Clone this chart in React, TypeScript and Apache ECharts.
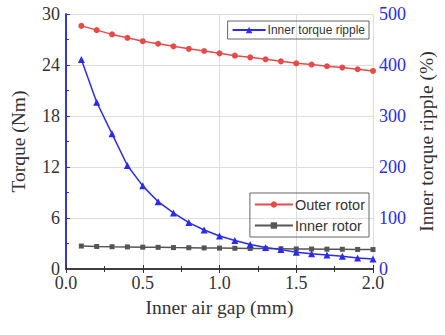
import React, { useEffect, useRef } from "react";
import * as echarts from "echarts";

// Inner air gap (mm)
const gap = [0.1, 0.2, 0.3, 0.4, 0.5, 0.6, 0.7, 0.8, 0.9, 1.0, 1.1, 1.2, 1.3, 1.4, 1.5, 1.6, 1.7, 1.8, 1.9, 2.0];
// Torque (Nm)
const outerRotor = [28.6, 28.1, 27.6, 27.2, 26.8, 26.5, 26.2, 25.9, 25.65, 25.37, 25.1, 24.9, 24.67, 24.43, 24.2, 24.05, 23.85, 23.7, 23.5, 23.3];
const innerRotor = [2.7, 2.65, 2.62, 2.6, 2.57, 2.55, 2.52, 2.5, 2.48, 2.46, 2.44, 2.42, 2.4, 2.38, 2.36, 2.35, 2.33, 2.32, 2.3, 2.29];
// Inner torque ripple (%)
const innerRipple = [411, 327, 265, 203, 163, 132, 110, 91, 76.5, 64.7, 56, 48, 42, 38, 33, 30, 27.5, 25, 21.6, 19.6];

const serif = "'Liberation Serif', 'DejaVu Serif', serif";
const sans = "'Liberation Sans', Arial, sans-serif";
const blue = "#2a2af0";
const red = "#e84a4a";
const gray = "#555555";
const axisColor = "#333333";

const pairs = (ys: number[]) => gap.map((x, i) => [x, ys[i]]);

export default function App() {
  const ref = useRef<HTMLDivElement>(null);

  useEffect(() => {
    if (!ref.current) return;
    const chart = echarts.init(ref.current, undefined, { renderer: "svg" });
    chart.setOption({
      animation: false,
      backgroundColor: "#ffffff",
      grid: { left: 60, right: 72, top: 14, bottom: 66, containLabel: false },
      legend: [
        {
          data: ["Inner torque ripple"],
          right: 76,
          top: 21,
          padding: [3, 4],
          itemWidth: 33,
          itemHeight: 8,
          borderColor: "#666",
          borderWidth: 1,
          borderRadius: 0,
          textStyle: { fontFamily: sans, fontSize: 12, color: "#333", padding: [0, 0, 0, -3] },
        },
        {
          data: ["Outer rotor", "Inner rotor"],
          orient: "vertical",
          right: 76,
          top: 193,
          padding: [4, 4],
          itemGap: 6,
          itemWidth: 38,
          itemHeight: 8,
          borderColor: "#666",
          borderWidth: 1,
          borderRadius: 0,
          textStyle: { fontFamily: sans, fontSize: 14.5, color: "#333", padding: [0, 0, 0, -3] },
        },
      ],
      xAxis: [
        {
          type: "value",
          min: 0,
          max: 2,
          interval: 0.5,
          name: "Inner air gap (mm)",
          nameLocation: "middle",
          nameGap: 28,
          nameTextStyle: { fontFamily: serif, fontSize: 19.5, color: axisColor },
          axisLine: { show: true, lineStyle: { color: axisColor, width: 1.5 } },
          axisTick: { show: true, inside: true, length: 4, lineStyle: { color: axisColor } },
          minorTick: { show: true, splitNumber: 2, length: 3, lineStyle: { color: axisColor } },
          axisLabel: {
            fontFamily: serif,
            fontSize: 18,
            color: axisColor,
            margin: 5,
            formatter: (v: number) => v.toFixed(1),
          },
          splitLine: { show: true, lineStyle: { color: "#dddddd", width: 1 } },
        },
        {
          type: "value",
          position: "top",
          min: 0,
          max: 2,
          interval: 0.5,
          axisLine: { show: true, lineStyle: { color: axisColor, width: 1.5 } },
          axisTick: { show: true, inside: true, length: 4, lineStyle: { color: axisColor } },
          minorTick: { show: true, splitNumber: 2, length: 3, lineStyle: { color: axisColor } },
          axisLabel: { show: false },
          splitLine: { show: false },
        },
      ],
      yAxis: [
        {
          type: "value",
          min: 0,
          max: 30,
          interval: 6,
          name: "Torque (Nm)",
          nameLocation: "middle",
          nameRotate: 90,
          nameGap: 38,
          nameTextStyle: { fontFamily: serif, fontSize: 19.5, color: axisColor },
          axisLine: { show: true, lineStyle: { color: axisColor, width: 1.5 } },
          axisTick: { show: true, inside: true, length: 4, lineStyle: { color: axisColor } },
          minorTick: { show: true, splitNumber: 2, length: 3, lineStyle: { color: axisColor } },
          axisLabel: { fontFamily: serif, fontSize: 18, color: axisColor, margin: 6 },
          splitLine: { show: true, lineStyle: { color: "#dddddd", width: 1 } },
        },
        {
          type: "value",
          position: "right",
          min: 0,
          max: 500,
          interval: 100,
          name: "Inner torque ripple (%)",
          nameLocation: "middle",
          nameRotate: 90,
          nameGap: 41,
          nameTextStyle: { fontFamily: serif, fontSize: 19.5, color: axisColor },
          axisLine: { show: true, lineStyle: { color: blue, width: 1.5 } },
          axisTick: { show: true, inside: false, length: 4, lineStyle: { color: blue } },
          minorTick: { show: true, splitNumber: 2, length: 3, lineStyle: { color: blue } },
          axisLabel: { fontFamily: serif, fontSize: 18, color: blue, margin: 6 },
          splitLine: { show: false },
        },
      ],
      series: [
        {
          name: "Outer rotor",
          type: "line",
          xAxisIndex: 0,
          yAxisIndex: 0,
          data: pairs(outerRotor),
          symbol: "circle",
          symbolSize: 6,
          lineStyle: { color: red, width: 1.5 },
          itemStyle: { color: red },
        },
        {
          name: "Inner rotor",
          type: "line",
          xAxisIndex: 0,
          yAxisIndex: 0,
          data: pairs(innerRotor),
          symbol: "rect",
          symbolSize: 5,
          lineStyle: { color: gray, width: 1.5 },
          itemStyle: { color: gray },
        },
        {
          name: "Inner torque ripple",
          type: "line",
          xAxisIndex: 0,
          yAxisIndex: 1,
          data: pairs(innerRipple),
          symbol: "triangle",
          symbolSize: 7,
          lineStyle: { color: blue, width: 1.5 },
          itemStyle: { color: blue },
        },
      ],
    });
    return () => chart.dispose();
  }, []);

  return <div ref={ref} style={{ width: 445, height: 335, position: "absolute", left: 0, top: 0 }} />;
}
